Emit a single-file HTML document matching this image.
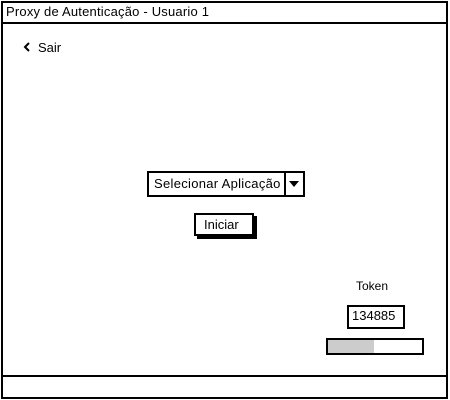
<!DOCTYPE html>
<html><head><style>
body{margin:0;width:450px;height:400px;background:#fff;position:relative;overflow:hidden;font-family:"Liberation Sans",sans-serif;color:#000}
div{position:absolute;box-sizing:border-box}
</style></head><body>
<div style="left:1px;top:1px;width:447px;height:398px;border:2px solid #000"></div>
<div style="left:1px;top:22px;width:447px;height:2px;background:#000"></div>
<div style="left:6px;top:4px;font-size:13px;letter-spacing:0.2px">Proxy de Autenticação - Usuario 1</div>
<div style="left:1px;top:375px;width:447px;height:2px;background:#000"></div>
<svg style="position:absolute;left:23px;top:42px" width="8" height="10"><polyline points="6,1 2,5 6,9" fill="none" stroke="#000" stroke-width="2"/></svg>
<div style="left:38px;top:40px;font-size:13px">Sair</div>
<div style="left:147px;top:171px;width:158px;height:26px;border:2px solid #000;background:#fff"></div>
<div style="left:284px;top:171px;width:2px;height:26px;background:#000"></div>
<div style="left:154px;top:176px;font-size:13px;letter-spacing:0.3px">Selecionar Aplicação</div>
<div style="left:289px;top:181px;width:0;height:0;border-left:5px solid transparent;border-right:5px solid transparent;border-top:6px solid #000"></div>
<div style="left:197px;top:216px;width:60px;height:23px;background:#000"></div>
<div style="left:194px;top:213px;width:60px;height:23px;border:2px solid #000;background:#fff"></div>
<div style="left:204px;top:217px;font-size:13px">Iniciar</div>
<div style="left:356px;top:279px;font-size:12px">Token</div>
<div style="left:347px;top:305px;width:58px;height:24px;border:2px solid #000"></div>
<div style="left:352px;top:308px;font-size:13px">134885</div>
<div style="left:326px;top:338px;width:98px;height:17px;border:2px solid #000"></div>
<div style="left:328px;top:340px;width:46px;height:13px;background:#ccc"></div>
</body></html>
